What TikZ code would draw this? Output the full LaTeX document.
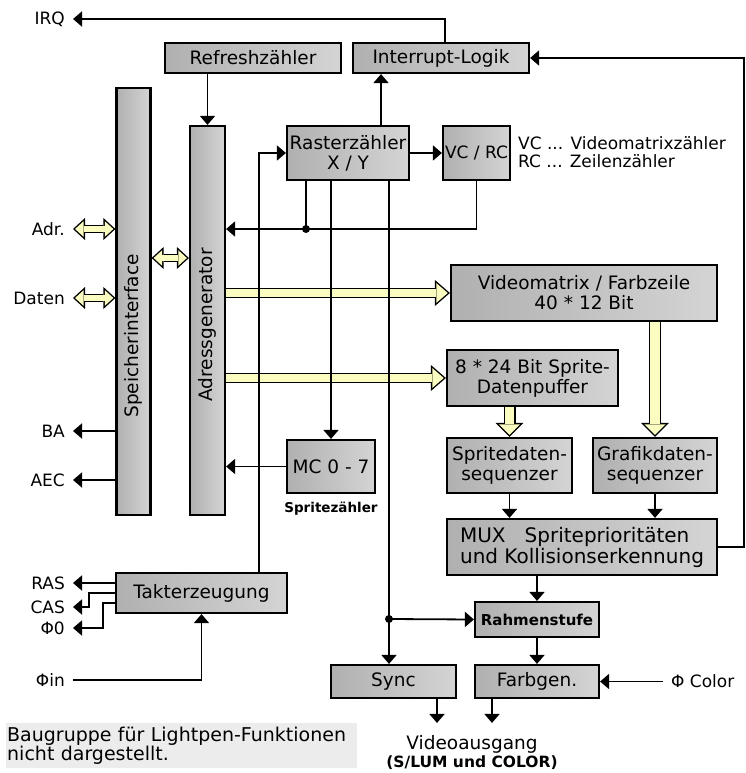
\documentclass[tikz,border=0pt]{standalone}
\usepackage{fontspec}
\setmainfont{DejaVu Sans}
\usetikzlibrary{arrows.meta}
\definecolor{vic-boxdark}{RGB}{176,176,176}
\definecolor{vic-boxlight}{RGB}{212,212,212}
\definecolor{vic-bus}{RGB}{250,252,192}
\definecolor{vic-note}{RGB}{236,236,236}
\newcommand{\boxfont}{\fontsize{18.5}{20}\selectfont}
\newcommand{\sigfont}{\fontsize{17}{18}\selectfont}
\newcommand{\tinybf}{\fontsize{13.5}{14}\selectfont\bfseries}
\newcommand{\notefont}{\fontsize{19}{19}\selectfont}

\begin{document}
\begin{tikzpicture}[x=1pt, y=-1pt,
  block/.style={draw, line width=2.2pt, left color=vic-boxdark, right color=vic-boxlight, align=center, font=\boxfont, inner sep=2pt},
  signal/.style={font=\sigfont, inner ysep=0pt, inner xsep=8pt},
  wire/.style={line width=1.8pt},
  arr/.style={wire, -{Triangle[width=15pt,length=9pt]}},
  % fat yellow arrows: black outline first, yellow inside
  bus/.style={line width=10pt, -{Triangle[width=26pt,length=15pt,line width=0pt]},
    postaction={draw=vic-bus, line width=7.2pt, shorten >=2.14pt, -{Triangle[width=19.86pt,length=11.46pt,line width=0pt]}}},
  vbus/.style={line width=12pt, -{Triangle[width=28pt,length=14pt,line width=0pt]},
    postaction={draw=vic-bus, line width=9.2pt, shorten >=1.98pt, -{Triangle[width=21.24pt,length=10.62pt,line width=0pt]}}},
  dbus/.style={line width=8pt, {Triangle[width=22pt,length=12pt,line width=0pt]}-{Triangle[width=22pt,length=12pt,line width=0pt]},
    postaction={draw=vic-bus, line width=5.2pt, shorten <=2.07pt, shorten >=2.07pt, {Triangle[width=15.64pt,length=8.53pt,line width=0pt]}-{Triangle[width=15.64pt,length=8.53pt,line width=0pt]}}},
]
  \useasboundingbox (0,0) rectangle (746,773);

  % Signals at the pins
  \node[signal, anchor=east] (irq) at (73,19) {IRQ};
  \node[signal, anchor=east] (adr) at (73,229) {Adr.};
  \node[signal, anchor=east] (daten) at (73,298) {Daten};
  \node[signal, anchor=east] (ba) at (73,431) {BA};
  \node[signal, anchor=east] (aec) at (73,480) {AEC};
  \node[signal, anchor=east] (ras) at (73,583) {RAS};
  \node[signal, anchor=east] (cas) at (73,607) {CAS};
  \node[signal, anchor=east] (phi0) at (73,628) {Φ0};
  \node[signal, anchor=east] (phiin) at (73,680) {Φin};
  \node[signal, anchor=west] (phicolor) at (663,681.5) {Φ Color};

  % Memory side
  \node[block, minimum width=176pt, minimum height=30pt] (refresh) at (253,58) {Refreshzähler};
  \node[block, minimum width=176pt, minimum height=30pt] (irqlogic) at (441,58) {Interrupt-Logik};
  \node[block, minimum width=34pt, minimum height=427pt] (speicher) at (133.5,301.5) {};
  \node[block, minimum width=35pt, minimum height=389pt] (adress) at (207.5,320.5) {};
  \node[rotate=90, font=\boxfont] (speichertext) at (133.5,336) {Speicherinterface};
  \node[rotate=90, font=\boxfont] (adresstext) at (207.5,325) {Adressgenerator};

  % Counters
  \node[block, minimum width=122pt, minimum height=54pt] (raster) at (348,153) {Rasterzähler\\X / Y};
  \node[block, minimum width=67pt, minimum height=54pt, font=\sigfont] (vcrc) at (476.5,153) {VC / RC};
  \node[font=\sigfont, align=left, anchor=west, inner sep=0pt] (vcnote) at (518,152) {VC ... Videomatrixzähler\\RC ... Zeilenzähler};
  \node[block, minimum width=88pt, minimum height=53pt] (mc) at (331,466.5) {MC 0 - 7};
  \node[font=\tinybf, anchor=north, inner sep=0pt] (mcnote) at (331,502) {Spritezähler};

  % Video data path
  \node[block, minimum width=266pt, minimum height=56pt] (vmatrix) at (584,293) {Videomatrix / Farbzeile\\40 * 12 Bit};
  \node[block, minimum width=171pt, minimum height=56pt] (spritebuf) at (532.5,378) {8 * 24 Bit Sprite-\\Datenpuffer};
  \node[block, minimum width=125pt, minimum height=55pt] (spriteseq) at (509.5,465.5) {Spritedaten-\\sequenzer};
  \node[block, minimum width=124pt, minimum height=55pt] (grafikseq) at (655,465.5) {Grafikdaten-\\sequenzer};
  \node[block, minimum width=270pt, minimum height=56pt, align=left, font=\fontsize{20}{21}\selectfont] (mux) at (582,547) {MUX\hspace{19pt}Spriteprioritäten\\und Kollisionserkennung};
  \node[block, minimum width=124pt, minimum height=35pt, font=\fontsize{15}{16}\selectfont\bfseries] (rahmen) at (537,619.5) {Rahmenstufe};
  \node[block, minimum width=125pt, minimum height=33pt] (sync) at (393.5,681.5) {Sync};
  \node[block, minimum width=124pt, minimum height=33pt] (farbgen) at (537,681.5) {Farbgen.};
  \node[font=\boxfont, align=center, inner sep=0pt, outer ysep=12pt] (video) at (472,752) {Videoausgang\\[-2pt]\fontsize{15.5}{16}\selectfont\bfseries (S/LUM und COLOR)};

  % Clock
  \node[block, minimum width=171pt, minimum height=40pt] (takt) at (201.5,593) {Takterzeugung};

  \node[fill=vic-note, font=\notefont, align=left, anchor=north west, text width=349pt, inner xsep=1pt, minimum height=45pt] (note) at (6,723) {Baugruppe für Lightpen-Funktionen\\nicht dargestellt.};

  \coordinate (j1) at (306,229);
  \coordinate (j2) at (389,619);
  \coordinate (membus) at (170,258);

  % Buses
  \draw[bus] (vmatrix.west -| adress.east) -- (vmatrix.west);
  \draw[bus] (spritebuf.west -| adress.east) -- (spritebuf.west);
  \draw[vbus] (spritebuf.south -| spriteseq.north) -- (spriteseq.north);
  \draw[vbus] (vmatrix.south -| grafikseq.north) -- (grafikseq.north);
  \draw[dbus] (adr.east) -- (adr.east -| speicher.west);
  \draw[dbus] (daten.east) -- (daten.east -| speicher.west);
  \draw[dbus] (membus -| speicher.east) -- (membus -| adress.west);

  % Counter wiring
  \draw[arr] ([xshift=4pt]irqlogic.north) |- (irq.east);
  \draw[arr] (refresh.south -| adress.north) -- (adress.north);
  \draw[arr] ([xshift=33pt]raster.north) -- ([xshift=33pt]raster.north |- irqlogic.south);
  \draw[arr] (raster.east) -- (vcrc.west);
  \draw[arr] (vcrc.south) |- (j1) -- (j1 -| adress.east);
  \draw[wire] (raster.south -| j1) -- (j1);
  \fill (j1) circle[radius=4pt];
  \draw[arr] (raster.south -| mc.north) -- (mc.north);
  \draw[arr] (raster.south -| j2) -- (j2 |- sync.north);
  \draw[arr] (j2) -- (rahmen.west);
  \fill (j2) circle[radius=4pt];
  \draw[arr] ([xshift=57.5pt]takt.north) |- (raster.west);
  \draw[arr] (mc.west) -- (mc.west -| adress.east);

  % Memory pins
  \draw[arr] (ba.east -| speicher.west) -- (ba.east);
  \draw[arr] (aec.east -| speicher.west) -- (aec.east);

  % Clock pins
  \draw[arr] (ras.east -| takt.west) -- (ras.east);
  \draw[arr] (takt.west) -- ++(-26,0) |- (cas.east);
  \draw[arr] ([yshift=-10pt]takt.west) -- ++(-12,0) |- (phi0.east);
  \draw[arr] (phiin.east) -| (takt.south);

  % Output stage
  \draw[arr] (spriteseq.south) -- (spriteseq.south |- mux.north);
  \draw[arr] (grafikseq.south) -- (grafikseq.south |- mux.north);
  \draw[arr] (mux.east) -- ++(26,0) |- (irqlogic.east);
  \draw[arr] (mux.south -| rahmen.north) -- (rahmen.north);
  \draw[arr] (rahmen.south) -- (farbgen.north);
  \draw[arr] (phicolor.west) -- (farbgen.east);
  \draw[arr] ([xshift=43.5pt]sync.south) -- ([xshift=43.5pt]sync.south |- video.north);
  \draw[arr] ([xshift=-45pt]farbgen.south) -- ([xshift=-45pt]farbgen.south |- video.north);
\end{tikzpicture}
\end{document}
